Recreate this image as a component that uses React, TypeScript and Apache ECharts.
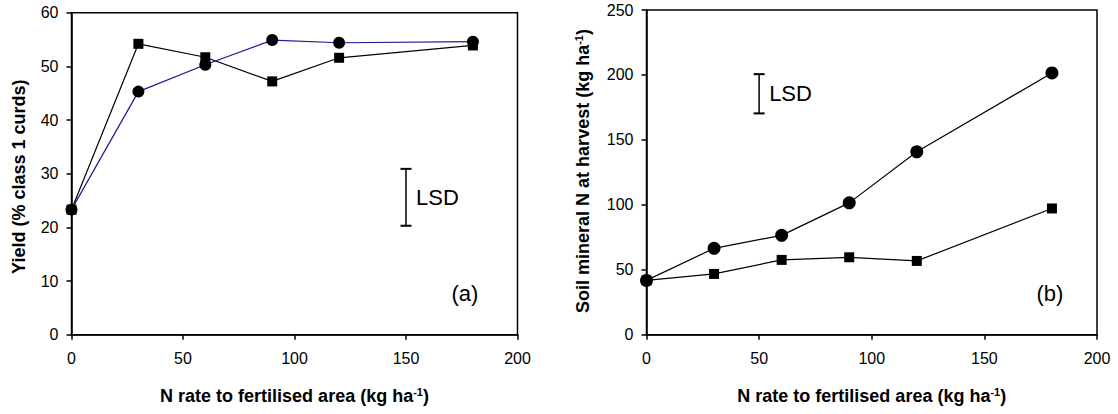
import React, { useEffect, useRef } from "react";
import * as echarts from "echarts";

const nRates = [0, 30, 60, 90, 120, 180];
const yieldSquares = [23.3, 54.2, 51.7, 47.2, 51.6, 53.9];
const yieldCircles = [23.3, 45.3, 50.3, 54.9, 54.4, 54.6];
const soilCircles = [41.8, 66.5, 76.5, 101.5, 140.8, 201.5];
const soilSquares = [41.8, 46.8, 57.6, 59.6, 56.8, 97.2];
const lsdA = [[150, 20.3, 30.9]];
const lsdB = [[50, 170.4, 200.6]];

const FONT = "'Liberation Sans', Arial, sans-serif";

const pairs = (xs: number[], ys: number[]) => xs.map((x, i) => [x, ys[i]]);

const lsdRender = (params: any, api: any) => {
  const top = api.coord([api.value(0), api.value(2)]);
  const bot = api.coord([api.value(0), api.value(1)]);
  const hw = 5.5;
  return {
    type: "group",
    children: [
      { type: "line", shape: { x1: top[0], y1: top[1], x2: bot[0], y2: bot[1] }, style: { stroke: "#000", lineWidth: 1.5 } },
      { type: "line", shape: { x1: top[0] - hw, y1: top[1], x2: top[0] + hw, y2: top[1] }, style: { stroke: "#000", lineWidth: 2 } },
      { type: "line", shape: { x1: bot[0] - hw, y1: bot[1], x2: bot[0] + hw, y2: bot[1] }, style: { stroke: "#000", lineWidth: 2 } },
      {
        type: "text",
        x: top[0] + 10,
        y: (top[1] + bot[1]) / 2,
        style: { text: "LSD", fill: "#000", fontSize: 22, fontFamily: FONT, align: "left", verticalAlign: "middle" },
      },
    ],
  };
};

const axisCommon = {
  axisLine: { show: true, lineStyle: { color: "#000", width: 1.5 } },
  axisTick: { show: true, inside: false, length: 5, lineStyle: { color: "#000", width: 1.5 } },
  splitLine: { show: false },
};

const titleRich = {
  t: { fontSize: 18, fontWeight: "bold" as const, fontFamily: FONT, fill: "#000" },
  sup: { fontSize: 11, fontWeight: "bold" as const, fontFamily: FONT, fill: "#000", padding: [0, 0, 9, 0] },
};

export default function App() {
  const ref = useRef<HTMLDivElement>(null);
  useEffect(() => {
    if (!ref.current) return;
    const chart = echarts.init(ref.current, undefined, { renderer: "svg" });
    const option: any = {
      animation: false,
      backgroundColor: "#fff",
      grid: [
        { left: 71.5, top: 12.7, width: 446, height: 322, show: true, borderColor: "#000", borderWidth: 1.5, backgroundColor: "transparent" },
        { left: 646.5, top: 10, width: 450.5, height: 324.7, show: true, borderColor: "#000", borderWidth: 1.5, backgroundColor: "transparent" },
      ],
      xAxis: [0, 1].map((g) => ({
        type: "value",
        gridIndex: g,
        min: 0,
        max: 200,
        interval: 50,
        ...axisCommon,
        axisLabel: { color: "#000", fontSize: 16, fontFamily: FONT, margin: 16 },
      })),
      yAxis: [
        { type: "value", gridIndex: 0, min: 0, max: 60, interval: 10, ...axisCommon, axisLabel: { color: "#000", fontSize: 16, fontFamily: FONT, margin: 13 } },
        { type: "value", gridIndex: 1, min: 0, max: 250, interval: 50, ...axisCommon, axisLabel: { color: "#000", fontSize: 16, fontFamily: FONT, margin: 13 } },
      ],
      series: [
        {
          type: "line", xAxisIndex: 0, yAxisIndex: 0, data: pairs(nRates, yieldSquares),
          symbol: "rect", symbolSize: 10, lineStyle: { color: "#000", width: 1.2 }, itemStyle: { color: "#000" },
        },
        {
          type: "line", xAxisIndex: 0, yAxisIndex: 0, data: pairs(nRates, yieldCircles),
          symbol: "circle", symbolSize: 12, lineStyle: { color: "#1a1a96", width: 1.2 }, itemStyle: { color: "#000" },
        },
        {
          type: "line", xAxisIndex: 1, yAxisIndex: 1, data: pairs(nRates, soilSquares),
          symbol: "rect", symbolSize: 10, lineStyle: { color: "#000", width: 1.2 }, itemStyle: { color: "#000" },
        },
        {
          type: "line", xAxisIndex: 1, yAxisIndex: 1, data: pairs(nRates, soilCircles),
          symbol: "circle", symbolSize: 13, lineStyle: { color: "#000", width: 1.2 }, itemStyle: { color: "#000" },
        },
        { type: "custom", xAxisIndex: 0, yAxisIndex: 0, data: lsdA, renderItem: lsdRender, clip: false },
        { type: "custom", xAxisIndex: 1, yAxisIndex: 1, data: lsdB, renderItem: lsdRender, clip: false },
      ],
      graphic: [
        { type: "text", x: 451.5, y: 293, style: { text: "(a)", fill: "#000", fontSize: 22, fontFamily: FONT, align: "left", verticalAlign: "middle" } },
        { type: "text", x: 1036.5, y: 293, style: { text: "(b)", fill: "#000", fontSize: 22, fontFamily: FONT, align: "left", verticalAlign: "middle" } },
        {
          type: "text", x: 294.5, y: 396,
          style: { text: "{t|N rate to fertilised area (kg ha}{sup|-1}{t|)}", align: "center", verticalAlign: "middle", rich: titleRich },
        },
        {
          type: "text", x: 871.75, y: 396,
          style: { text: "{t|N rate to fertilised area (kg ha}{sup|-1}{t|)}", align: "center", verticalAlign: "middle", rich: titleRich },
        },
        {
          type: "text", x: 19, y: 176.7, rotation: Math.PI / 2,
          style: { text: "Yield (% class 1 curds)", fontSize: 18, fontWeight: "bold", fontFamily: FONT, fill: "#000", align: "center", verticalAlign: "middle" },
        },
        {
          type: "text", x: 583, y: 171, rotation: Math.PI / 2,
          style: { text: "{t|Soil mineral N at harvest (kg ha}{sup|-1}{t|)}", align: "center", verticalAlign: "middle", rich: titleRich },
        },
      ],
    };
    chart.setOption(option);
    return () => chart.dispose();
  }, []);
  return <div ref={ref} style={{ position: "absolute", left: 0, top: 0, width: 1118, height: 414 }} />;
}
